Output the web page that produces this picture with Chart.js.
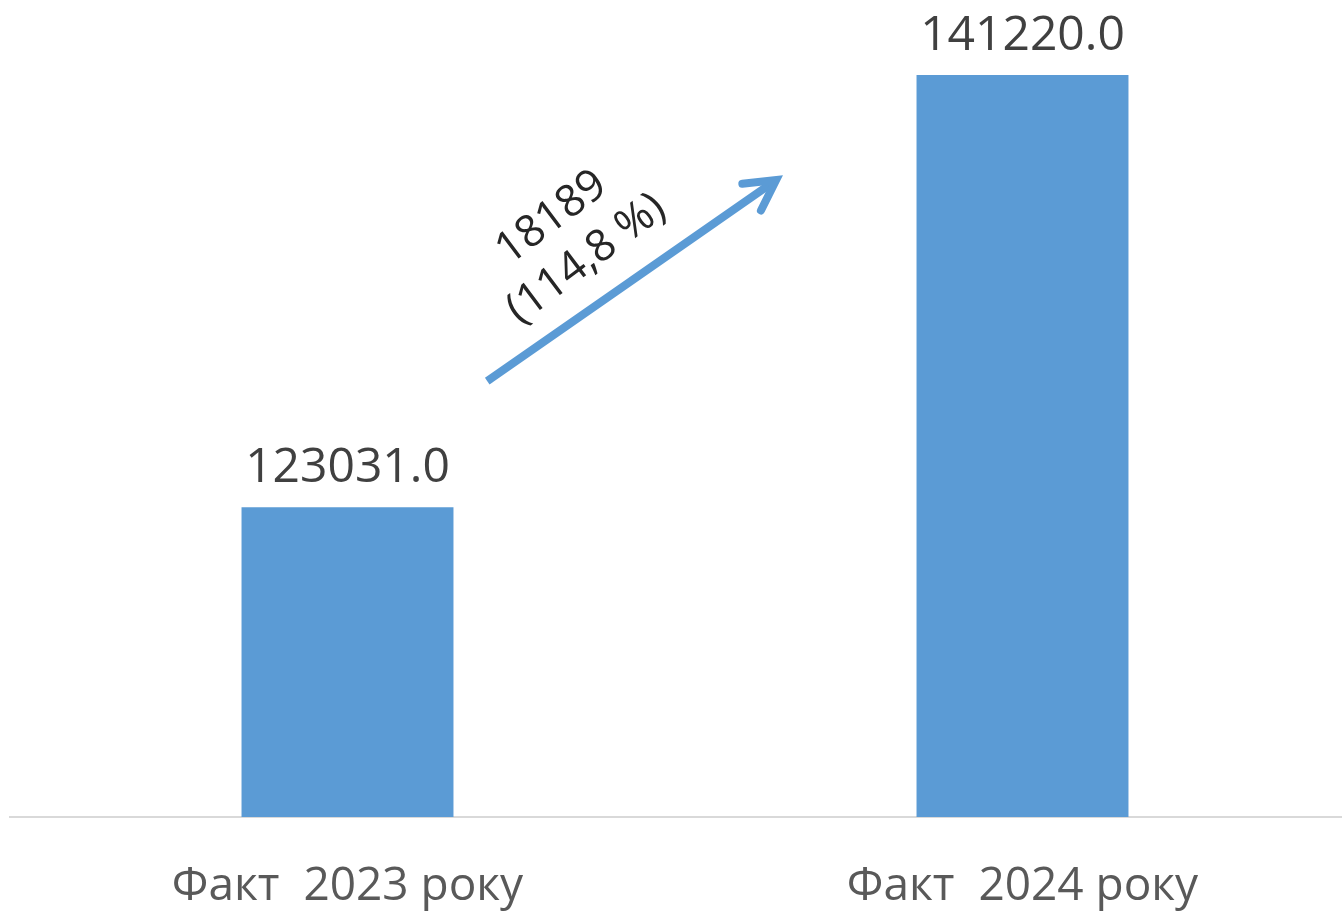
<!DOCTYPE html>
<html>
<head>
<meta charset="utf-8">
<script src="https://cdn.jsdelivr.net/npm/chart.js@4.4.1/dist/chart.umd.min.js"></script>
<style>
  html, body { margin: 0; padding: 0; background: #fff; overflow: hidden; }
  #wrap { width: 1360px; height: 912px; }
</style>
</head>
<body>
<div id="wrap"><canvas id="chart"></canvas></div>
<script>
const categories = ["Факт  2023 року", "Факт  2024 року"];
const values = [123031.0, 141220.0];
const changeText = ["18189", "(114,8 %)"];
// arrow ends in data space: [category position, value]
const arrowFrom = [0.207, 128340];
const arrowTo = [0.635, 136800];
const changeLabelAt = [0.33, 134380];

const barColor = "#5b9bd5";

const labelsPlugin = {
    id: "labels",
    afterDatasetsDraw(chart) {
        const ctx = chart.ctx;
        const meta = chart.getDatasetMeta(0);
        ctx.save();
        ctx.font = "48px 'Open Sans'";
        ctx.fillStyle = "#404040";
        ctx.textAlign = "center";
        ctx.textBaseline = "alphabetic";
        meta.data.forEach((bar, i) => {
            ctx.fillText(values[i].toFixed(1), bar.x, bar.y - 25);
        });

        // growth arrow
        const xs = chart.scales.x, ys = chart.scales.y;
        const x1 = xs.getPixelForValue(arrowFrom[0]), y1 = ys.getPixelForValue(arrowFrom[1]);
        const x2 = xs.getPixelForValue(arrowTo[0]), y2 = ys.getPixelForValue(arrowTo[1]);
        const ang = Math.atan2(y2 - y1, x2 - x1);
        ctx.strokeStyle = barColor;
        ctx.lineWidth = 8;
        ctx.lineCap = "butt";
        ctx.beginPath();
        ctx.moveTo(x1, y1);
        ctx.lineTo(x2 - 4 * Math.cos(ang), y2 - 4 * Math.sin(ang));
        ctx.stroke();
        ctx.lineCap = "round";
        ctx.lineJoin = "miter";
        const head = 34, spread = 0.5;
        ctx.beginPath();
        ctx.moveTo(x2 - head * Math.cos(ang - spread), y2 - head * Math.sin(ang - spread));
        ctx.lineTo(x2, y2);
        ctx.lineTo(x2 - head * Math.cos(ang + spread), y2 - head * Math.sin(ang + spread));
        ctx.stroke();

        // change text
        const tx = xs.getPixelForValue(changeLabelAt[0]), ty = ys.getPixelForValue(changeLabelAt[1]);
        ctx.translate(tx, ty);
        ctx.rotate(-37 * Math.PI / 180);
        ctx.fillStyle = "#262626";
        ctx.font = "44px 'Open Sans'";
        ctx.textBaseline = "middle";
        ctx.fillText(changeText[0], -3, -27);
        ctx.fillText(changeText[1], 0, 27);
        ctx.restore();
    }
};

new Chart(document.querySelector("#chart"), {
    type: "bar",
    data: {
        labels: categories,
        datasets: [{
            data: values,
            backgroundColor: barColor,
            borderWidth: 0,
            categoryPercentage: 1,
            barPercentage: 0.314
        }]
    },
    options: {
        responsive: true,
        maintainAspectRatio: false,
        animation: false,
        layout: { padding: { left: 10, right: 0, top: 9, bottom: 0 } },
        plugins: { legend: { display: false }, tooltip: { enabled: false } },
        scales: {
            x: {
                grid: { display: false, drawTicks: false, tickLength: 0 },
                border: { display: true, color: "#d9d9d9", width: 2 },
                afterFit(scale) { scale.height = 95; },
                ticks: {
                    color: "#595959",
                    padding: 42,
                    font: { family: "'Open Sans'", size: 46 }
                }
            },
            y: {
                display: false,
                min: 110000,
                max: 144000
            }
        }
    },
    plugins: [labelsPlugin]
});
</script>
</body>
</html>
